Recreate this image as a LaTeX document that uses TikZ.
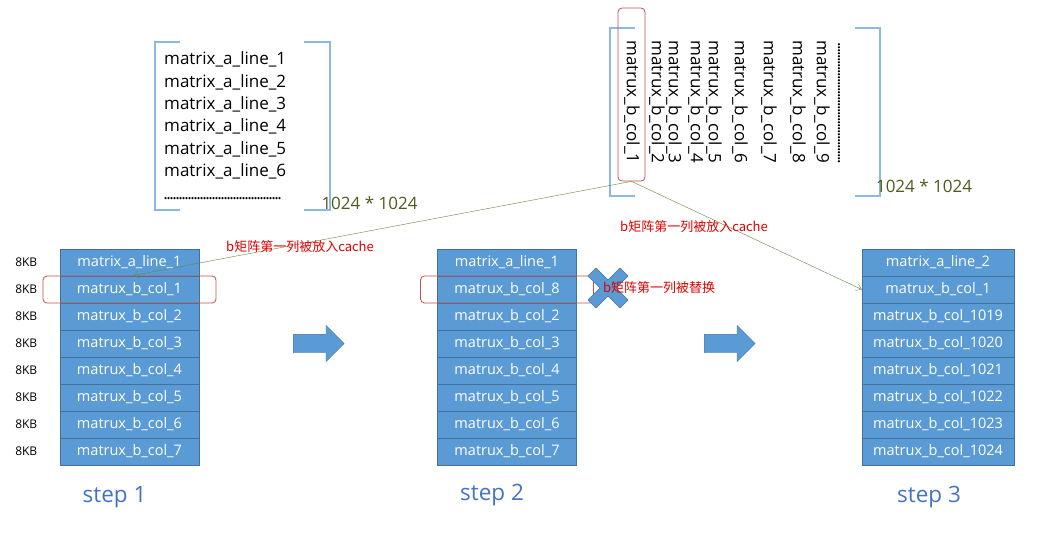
\documentclass[tikz,border=0pt]{standalone}
\usepackage{fontspec}
\setmainfont{Open Sans}
\newfontfamily\cjk{Noto Sans CJK SC}
\usepackage{xcolor}
\usetikzlibrary{positioning, arrows.meta, shapes.geometric, shapes.arrows, calc}

\definecolor{cellblue}{HTML}{5B9BD5}
\definecolor{celledge}{HTML}{41719C}
\definecolor{brkblue}{HTML}{8DB8E2}
\definecolor{hired}{HTML}{C0504D}
\definecolor{notered}{HTML}{E00000}
\definecolor{linkgreen}{HTML}{5E8A3C}
\definecolor{sizeolive}{HTML}{4F5A1E}
\definecolor{stepblue}{HTML}{4472C4}

\newcommand{\dotrow}[1]{\hbox to #1{\leaders\hbox to 3pt{\hss.\hss}\hfill}}

\begin{document}
\begin{tikzpicture}[x=1pt, y=-1pt,
    cell/.style={draw=celledge, fill=cellblue, text=white, minimum width=139pt, minimum height=27pt, inner sep=0pt, font=\fontsize{14.5}{17}\selectfont},
    wide/.style={cell, minimum width=152pt},
    kb/.style={font=\fontsize{12}{14}\selectfont},
    hilite/.style={draw=hired, thick, rounded corners=4pt, minimum width=173pt, minimum height=27pt},
    note/.style={text=notered, font=\cjk\fontsize{13}{15}\selectfont, inner sep=0pt},
    size/.style={text=sizeolive, font=\fontsize{17}{20}\selectfont, inner sep=0pt},
    bcol/.style={rotate=-90, anchor=west, inner sep=0pt, font=\fontsize{17}{20}\selectfont},
    brk/.style={draw=brkblue, line width=1.2pt},
    link/.style={draw=linkgreen, ->, >={Straight Barb[length=5pt, width=7pt]}},
    bigarrow/.style={single arrow, draw=celledge, fill=cellblue, minimum height=51pt, inner xsep=0pt, inner ysep=9pt, single arrow head extend=9pt, anchor=tail},
    steplbl/.style={text=stepblue, font=\fontsize{22.5}{26}\selectfont}]
    \useasboundingbox (0,0) rectangle (1040,534);

    % matrix a
    \draw[brk] (180,42) -- (155,42) -- (155,210) -- (180,210);
    \draw[brk] (304,42) -- (330,42) -- (330,210) -- (304,210);
    \node (mata) [anchor=north west, align=left, inner sep=0pt, font=\fontsize{17}{22.4}\selectfont] at (164,51.5)
        {matrix\_a\_line\_1\\matrix\_a\_line\_2\\matrix\_a\_line\_3\\matrix\_a\_line\_4\\matrix\_a\_line\_5\\matrix\_a\_line\_6\\\dotrow{119pt}};
    \node (sizea) [size] at (369.5,203) {1024 * 1024};

    % matrix b (columns)
    \draw[brk] (635,28) -- (610,28) -- (610,196) -- (635,196);
    \draw[brk] (855,28) -- (880,28) -- (880,196) -- (855,196);
    \foreach \x [count=\i] in {632,657,674,696,714,740,769,798,822}
        \node (b\i) [bcol] at (\x,40) {matrux\_b\_col\_\i};
    \node (bdots) [bcol] at (839,43) {\dotrow{122pt}};
    \node (sizeb) [size] at (924,186) {1024 * 1024};
    \node (hlb) [hilite, minimum width=27pt, minimum height=173pt] at (631.5,94.5) {};

    % step 1
    \foreach \t [count=\i] in {matrix\_a\_line\_1, matrux\_b\_col\_1, matrux\_b\_col\_2, matrux\_b\_col\_3,
                               matrux\_b\_col\_4, matrux\_b\_col\_5, matrux\_b\_col\_6, matrux\_b\_col\_7} {
        \node (s1r\i) [cell] at (129.5,{235.5+27*\i}) {\t};
        \node [kb, left=19pt of s1r\i] {8KB};
    }
    \node (hl1) [hilite] at (s1r2) {};
    \node (step1) [steplbl] at ($(s1r8.south)+(-15,32)$) {step 1};

    % step 2
    \foreach \t [count=\i] in {matrix\_a\_line\_1, matrux\_b\_col\_8, matrux\_b\_col\_2, matrux\_b\_col\_3,
                               matrux\_b\_col\_4, matrux\_b\_col\_5, matrux\_b\_col\_6, matrux\_b\_col\_7}
        \node (s2r\i) [cell] at (507,{235.5+27*\i}) {\t};
    \node (hl2) [hilite] at (s2r2) {};
    \node (step2) [steplbl] at ($(s2r8.south)+(-15,30)$) {step 2};
    \draw[draw=celledge, fill=cellblue, shift={(608,288)}]
        (-20,-12) -- (-12,-20) -- (0,-8) -- (12,-20) -- (20,-12) -- (8,0)
        -- (20,12) -- (12,20) -- (0,8) -- (-12,20) -- (-20,12) -- (-8,0) -- cycle;
    \node (lost) [note, anchor=west] at (603,288) {b矩阵第一列被替换};

    % step 3
    \foreach \t [count=\i] in {matrix\_a\_line\_2, matrux\_b\_col\_1, matrux\_b\_col\_1019, matrux\_b\_col\_1020,
                               matrux\_b\_col\_1021, matrux\_b\_col\_1022, matrux\_b\_col\_1023, matrux\_b\_col\_1024}
        \node (s3r\i) [wide] at (938,{235.5+27*\i}) {\t};
    \node (step3) [steplbl] at ($(s3r8.south)+(-9,32)$) {step 3};

    % between the steps
    \node (go1) [bigarrow] at (293,343.5) {};
    \node (go2) [bigarrow] at (704,343.5) {};

    % b column 1 goes into cache
    \draw[link, shorten >=4pt] (hlb.south) -- (s1r1.south);
    \draw[link] (hlb.south) -- (s3r2.west);
    \node (put1) [note] at (300,247) {b矩阵第一列被放入cache};
    \node (put2) [note] at (694,227) {b矩阵第一列被放入cache};
\end{tikzpicture}
\end{document}
